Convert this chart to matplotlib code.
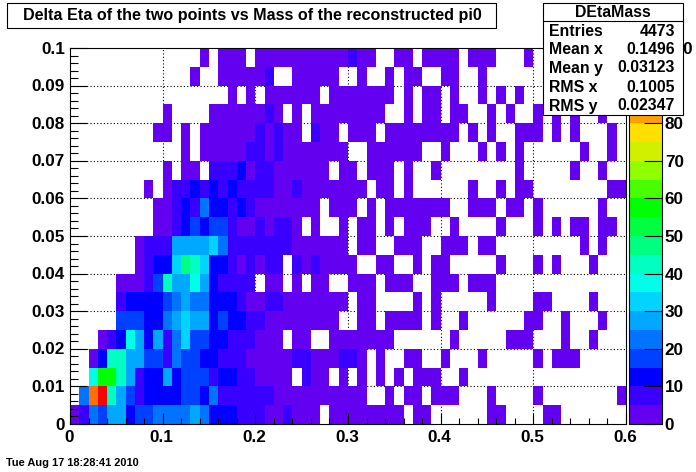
#!/usr/bin/env python3
"""DEtaMass: delta eta of the two points vs reconstructed pi0 mass (ROOT style colz)."""
import numpy as np
import matplotlib
matplotlib.use("Agg")
import matplotlib.pyplot as plt
from matplotlib.colors import ListedColormap, BoundaryNorm
from matplotlib.patches import Rectangle
from matplotlib.ticker import MultipleLocator

plt.rcParams["font.family"] = ["Liberation Sans", "DejaVu Sans"]
plt.rcParams["font.weight"] = "bold"

W, H = 696, 472

TITLE = "Delta Eta of the two points vs Mass of the reconstructed pi0"
STAMP = "Tue Aug 17 18:28:41 2010"
STATS_NAME = "DEtaMass"
STATS_LABELS = ["Entries", "Mean x", "Mean y", "RMS x", "RMS y"]
STATS_VALUES = ["4473", "0.1496", "0.03123", "0.1005", "0.02347"]

X_BINS = 60
Y_BINS = 20
X_MAX = 0.6
Y_MAX = 0.1
Z_LEVELS = list(range(0, 105, 5))
Z_TICKS = [0, 10, 20, 30, 40, 50, 60, 70, 80, 100]

# palette bands, 5 counts each
BAND_COLORS = [
    "#6400f0", "#3a00ff", "#0000ff", "#0040ff", "#0074ff",
    "#00a8ff", "#00d4ff", "#00ffe8", "#00ffc0", "#00ff80",
    "#00ff40", "#00ff00", "#48ff00", "#90ff00", "#d0f000",
    "#ffe000", "#ffa000", "#ff7000", "#ff3800", "#ff0000",
]

# one char per cell, '.' empty, otherwise the colour band (0-9, a-j).
# top row of the picture first, spaces only to keep columns readable
ROWS = [
    ".......... ....0.000. 0000000000 100..00.00 00.000...0 ..........",
    ".......... ...0..0000 01..00000. .0..0.00.. 00..0..... ..........",
    ".......... .......0.0 .000000.00 00000.0.00 .0..0.0.0. ..........",
    ".......... 0....00000 010.0.0000 0000..0.00 .00..0.0.. 0.0.0..0..",
    ".........0 0.0.000000 10100.100. 000.000000 00.0.0..00 0.0.0...0.",
    ".......... ..0.000001 1010000000 ..000000.. 0...0.0.0. .....0..0.",
    ".......... 0.00.11120 11000000.0 0.000.0..0 ........0. ....0..0..",
    "........0. 0112121211 1100100000 00.00.0... ...0..0.00 ........00",
    ".........0 0121422121 0000000.00 0.0.000000 0..000.00. 0......0..",
    ".........0 0123233100 10110.0..0 .00.0.000. .0....0... 0.0.00.00.",
    ".......011 1555564111 1111000000 .00..000.. 000.00.... .....0.0..",
    ".......012 2698622101 011.101000 0..00..0.0 0.....0... 0.0...0...",
    ".....00013 8557521111 .00.0.00.. 000.000..0 00.000.... ..........",
    ".....12222 3454422210 0110000000 .00....0.0 .....0.... 00....0...",
    ".....33322 4565523221 100000000. .00.0000.0 ..0......0 0..0...0..",
    "...0127525 1463322111 000.00..00 00000..... .0.....000 ...0..0...",
    "..02885533 1433221110 0000110001 10.0..00.. 0...0..... 0.000.....",
    "..7bb85122 5233312211 0000.100.0 .0.0.0.000 ..0....... ..........",
    ".4hj853122 2233241111 1100000000 00..0.00.0 00...0.... 0........0",
    "0143552334 4445422211 1001000.00 000000.00. .....00... .00.......",
]


def px_axes(fig, left, top, right, bottom):
    # pixel box, y measured from the top like in the picture
    return fig.add_axes([left / W, 1 - bottom / H, (right - left) / W, (bottom - top) / H])


def row_counts(row):
    row = row.replace(" ", "")
    return [np.nan if c == "." else int(c, 20) * 5 + 2.5 for c in row]


fig = plt.figure(figsize=(W / 100, H / 100), dpi=100)
ax = px_axes(fig, 70, 48, 626, 424)

counts = np.array([row_counts(r) for r in ROWS[::-1]])
cmap = ListedColormap(BAND_COLORS)
norm = BoundaryNorm(Z_LEVELS, cmap.N)
x_edges = np.linspace(0, X_MAX, X_BINS + 1)
y_edges = np.linspace(0, Y_MAX, Y_BINS + 1)
mesh = ax.pcolormesh(x_edges, y_edges, np.ma.masked_invalid(counts), cmap=cmap, norm=norm, zorder=1)

ax.set_xlim(0, X_MAX)
ax.set_ylim(0, Y_MAX)

# grid only shows through the empty cells
for gx in np.arange(0.1, 0.6, 0.1):
    ax.axvline(gx, color="black", lw=0.8, ls=(0, (1, 2)), zorder=0.5)
for gy in np.arange(0.01, 0.1, 0.01):
    ax.axhline(gy, color="black", lw=0.8, ls=(0, (1, 2)), zorder=0.5)

ax.xaxis.set_major_locator(MultipleLocator(0.1))
ax.xaxis.set_minor_locator(MultipleLocator(0.02))
ax.yaxis.set_major_locator(MultipleLocator(0.01))
ax.yaxis.set_minor_locator(MultipleLocator(0.002))
ax.set_xticklabels([])
ax.set_yticklabels([])
ax.tick_params(axis="x", which="major", direction="in", length=8, width=0.8)
ax.tick_params(axis="x", which="minor", direction="in", length=4, width=0.8)
ax.tick_params(axis="y", which="major", direction="in", length=12, width=0.8)
ax.tick_params(axis="y", which="minor", direction="in", length=6, width=0.8)
for s in ax.spines.values():
    s.set_linewidth(0.8)

cax = px_axes(fig, 629, 48, 662, 424)
cbar = fig.colorbar(mesh, cax=cax, ticks=Z_TICKS, spacing="proportional", drawedges=False)
cbar.ax.tick_params(direction="in", length=13, width=0.8, labelsize=12.3, pad=2)
cbar.ax.minorticks_off()
cbar.outline.set_linewidth(0.8)

# tick labels, title box and stats box sit on a full figure overlay
top = fig.add_axes([0, 0, 1, 1], zorder=10)
top.set_xlim(0, W)
top.set_ylim(H, 0)
top.axis("off")
top.patch.set_alpha(0)

for i in range(11):
    val = i * 0.01
    y = 424 - 376 * val / Y_MAX
    lab = "0" if i == 0 else f"{val:g}"
    top.text(65, y + 1, lab, ha="right", va="center", fontsize=12.3, fontweight="bold")
for i in range(7):
    val = i * 0.1
    x = 70 + 556 * val / X_MAX
    lab = "0" if i == 0 else f"{val:g}"
    top.text(x - 1, 437.5, lab, ha="center", va="center", fontsize=12.3, fontweight="bold")

top.add_patch(Rectangle((7, 2.5), 489, 25.5, fc="white", ec="black", lw=0.8))
top.text(23, 15.5, TITLE, ha="left", va="center", fontsize=11.6, fontweight="bold")

top.add_patch(Rectangle((542.5, 2.5), 140.5, 112.5, fc="white", ec="black", lw=0.8))
top.plot([542.5, 683], [21, 21], color="black", lw=0.8)
top.text(612.5, 12.5, STATS_NAME, ha="center", va="center", fontsize=11.4, fontweight="bold")
for y, lab, val in zip([31, 50, 68, 87, 106], STATS_LABELS, STATS_VALUES):
    top.text(549, y, lab, ha="left", va="center", fontsize=11.4, fontweight="bold")
    top.text(675, y, val, ha="right", va="center", fontsize=11.4, fontweight="bold")

top.text(6, 463, STAMP, ha="left", va="center", fontsize=7.95, fontweight="bold")

fig.savefig("out.png", dpi=100)
